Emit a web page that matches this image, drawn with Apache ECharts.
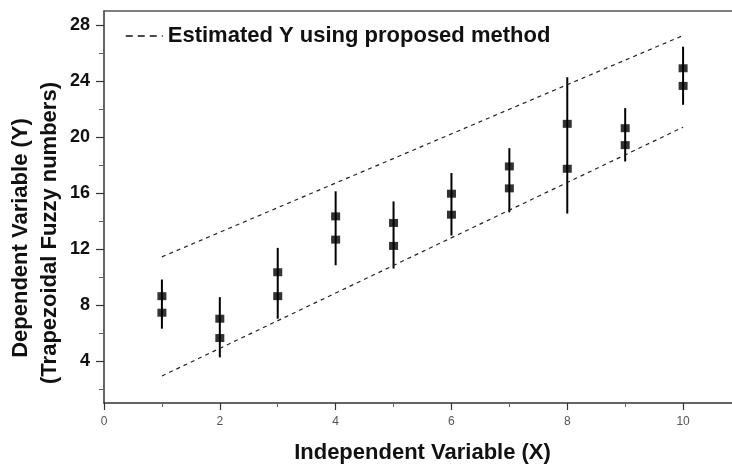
<!DOCTYPE html>
<html>
<head>
<meta charset="utf-8">
<script src="https://cdn.jsdelivr.net/npm/echarts@6/dist/echarts.min.js"></script>
<style>html,body{margin:0;padding:0;background:#fff;}#c{width:732px;height:466px;}</style>
</head>
<body>
<div id="c"></div>
<script>
// ---- data ----
const xValues = [1, 2, 3, 4, 5, 6, 7, 8, 9, 10];
const markUpper = [8.63, 7.02, 10.34, 14.33, 13.86, 15.95, 17.9, 20.94, 20.63, 24.91];
const markLower = [7.45, 5.64, 8.63, 12.67, 12.22, 14.45, 16.33, 17.73, 19.42, 23.65];
const barTop = [9.82, 8.56, 12.08, 16.12, 15.4, 17.43, 19.2, 24.27, 22.06, 26.45];
const barBottom = [6.31, 4.26, 7.02, 10.84, 10.6, 12.96, 14.62, 14.53, 18.25, 22.3];
const estX = [1, 10];
const estUpper = [11.44, 27.25];
const estLower = [2.93, 20.7];
const xMajor = [0, 2, 4, 6, 8, 10];
const xMinor = [1, 3, 5, 7, 9];
const yMajor = [4, 8, 12, 16, 20, 24, 28];
const yMinor = [2, 6, 10, 14, 18, 22, 26];
const legendName = 'Estimated Y using proposed method';

const FONT = 'Arial, "Liberation Sans", sans-serif';
const chart = echarts.init(document.getElementById('c'), null, {renderer: 'canvas'});

const markerData = [];
xValues.forEach((x, i) => { markerData.push([x, markUpper[i]]); markerData.push([x, markLower[i]]); });
const barData = xValues.map((x, i) => [x, barBottom[i], barTop[i]]);

const axisLine = {show: true, lineStyle: {color: '#333', width: 1.5}};

chart.setOption({
  animation: false,
  backgroundColor: '#fff',
  grid: {left: 104, right: -9, top: 11, bottom: 63, containLabel: false, outerBoundsMode: 'none'},
  legend: {
    data: [legendName],
    left: 120, top: 20,
    itemWidth: 37, itemHeight: 14, itemGap: 4,
    lineStyle: {type: [7, 5], width: 1.5, color: '#111'},
    itemStyle: {opacity: 0},
    textStyle: {fontFamily: FONT, fontWeight: 'bold', fontSize: 22, color: '#111'}
  },
  xAxis: [
    {type: 'value', min: 0, max: 11, position: 'bottom',
     axisLine: axisLine,
     axisTick: {show: true, customValues: xMajor, length: 7, lineStyle: {color: '#333', width: 1.2}},
     axisLabel: {show: true, customValues: xMajor, margin: 13, color: '#555', fontFamily: FONT, fontSize: 12},
     splitLine: {show: false},
     name: 'Independent Variable (X)', nameLocation: 'middle', nameGap: 39,
     nameTextStyle: {fontFamily: FONT, fontWeight: 'bold', fontSize: 22, color: '#111'}},
    {type: 'value', min: 0, max: 11, position: 'bottom',
     axisLine: {show: false},
     axisTick: {show: true, customValues: xMinor, length: 4, lineStyle: {color: '#666', width: 1}},
     axisLabel: {show: false}, splitLine: {show: false}},
    {type: 'value', min: 0, max: 11, position: 'top',
     axisLine: {show: true, lineStyle: {color: '#555', width: 1.5}},
     axisTick: {show: false}, axisLabel: {show: false}, splitLine: {show: false}}
  ],
  yAxis: [
    {type: 'value', min: 1, max: 29, position: 'left',
     axisLine: axisLine,
     axisTick: {show: true, customValues: yMajor, length: 8, lineStyle: {color: '#333', width: 1.2}},
     axisLabel: {show: true, customValues: yMajor, margin: 14, color: '#111', fontFamily: FONT, fontWeight: 'bold', fontSize: 18},
     splitLine: {show: false}},
    {type: 'value', min: 1, max: 29, position: 'left',
     axisLine: {show: false},
     axisTick: {show: true, customValues: yMinor, length: 5, lineStyle: {color: '#666', width: 1}},
     axisLabel: {show: false}, splitLine: {show: false}}
  ],
  graphic: [
    {type: 'text', x: 21, y: 238, rotation: Math.PI / 2,
     style: {text: 'Dependent Variable (Y)', font: 'bold 22px ' + FONT, fill: '#111', textAlign: 'center', textVerticalAlign: 'middle'}},
    {type: 'text', x: 50, y: 233, rotation: Math.PI / 2,
     style: {text: '(Trapezoidal Fuzzy numbers)', font: 'bold 22px ' + FONT, fill: '#111', textAlign: 'center', textVerticalAlign: 'middle'}}
  ],
  series: [
    {name: legendName, type: 'line', xAxisIndex: 0, yAxisIndex: 0, symbol: 'none',
     data: estX.map((x, i) => [x, estUpper[i]]),
     lineStyle: {type: [4, 4], width: 1.2, color: '#222'}, itemStyle: {color: '#222'}},
    {name: legendName, type: 'line', xAxisIndex: 0, yAxisIndex: 0, symbol: 'none',
     data: estX.map((x, i) => [x, estLower[i]]),
     lineStyle: {type: [4, 4], width: 1.2, color: '#222'}, itemStyle: {color: '#222'}},
    {name: 'range', type: 'custom', xAxisIndex: 0, yAxisIndex: 0, data: barData,
     renderItem: function (params, api) {
       const p1 = api.coord([api.value(0), api.value(1)]);
       const p2 = api.coord([api.value(0), api.value(2)]);
       return {type: 'line', shape: {x1: p1[0], y1: p1[1], x2: p2[0], y2: p2[1]},
               style: {stroke: '#000', lineWidth: 2}};
     }},
    {name: 'points', type: 'scatter', xAxisIndex: 0, yAxisIndex: 0, data: markerData,
     symbol: 'rect', symbolSize: [9, 8], itemStyle: {color: '#000'}}
  ]
});
</script>
</body>
</html>
